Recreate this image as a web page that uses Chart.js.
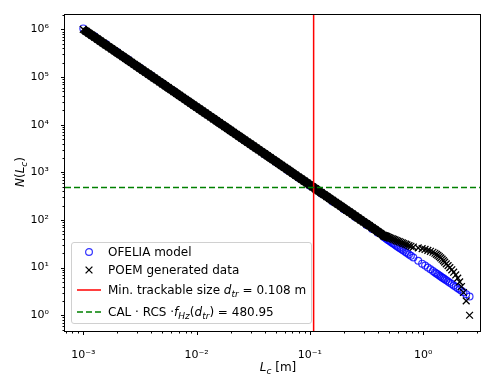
<!DOCTYPE html>
<html>
<head>
<meta charset="utf-8">
<script src="https://cdn.jsdelivr.net/npm/chart.js@4.4.1/dist/chart.umd.min.js"></script>
<style>
  body { margin: 0; background: #fff; }
  #wrap { position: relative; width: 486px; height: 374px; font-family: 'DejaVu Sans', sans-serif; color: #000; }
  #chart { position: absolute; left: 0; top: 0; }
  .title { position: absolute; font-size: 12px; white-space: nowrap; line-height: 14px; }
  #ytitle { left: 20px; top: 172px; transform: translate(-50%, -50%) rotate(-90deg); }
  #xtitle { left: 278px; top: 367px; transform: translate(-50%, -50%); }
  sub { font-size: 75%; vertical-align: -0.3em; line-height: 0; }
  #legend {
    position: absolute; left: 71px; top: 242px; width: 241px; height: 82px;
    box-sizing: border-box; border: 1px solid #d0d0d0; border-radius: 3px;
    background: rgba(255, 255, 255, 0.8); font-size: 12px;
  }
  .row { position: absolute; left: 0; height: 16px; line-height: 16px; white-space: nowrap; }
  .row svg { position: absolute; left: 4px; top: 2px; }
  .row span { position: absolute; left: 36px; top: 0; }
</style>
</head>
<body>
<div id="wrap">
  <canvas id="chart" width="486" height="374"></canvas>
  <div class="title" id="ytitle"><i>N</i>(<i>L</i><sub><i>c</i></sub>)</div>
  <div class="title" id="xtitle"><i>L</i><sub><i>c</i></sub> [m]</div>
  <div id="legend">
    <div class="row" style="top:1px">
      <svg width="28" height="12"><circle cx="13" cy="6" r="3.4" fill="none" stroke="rgba(0,0,255,0.8)" stroke-width="1.2"/></svg>
      <span>OFELIA model</span>
    </div>
    <div class="row" style="top:19px">
      <svg width="28" height="12"><path d="M9.6 2.6 L16.4 9.4 M9.6 9.4 L16.4 2.6" stroke="#000" stroke-width="1.3"/></svg>
      <span>POEM generated data</span>
    </div>
    <div class="row" style="top:39px">
      <svg width="28" height="12"><line x1="1" y1="6" x2="25" y2="6" stroke="red" stroke-width="1.5"/></svg>
      <span>Min. trackable size <i>d</i><sub><i>tr</i></sub> = 0.108 m</span>
    </div>
    <div class="row" style="top:61px">
      <svg width="28" height="12"><line x1="1" y1="6" x2="25" y2="6" stroke="green" stroke-width="1.5" stroke-dasharray="6 3"/></svg>
      <span>CAL · RCS ·<i>f</i><sub><i>Hz</i></sub>(<i>d</i><sub><i>tr</i></sub>) = 480.95</span>
    </div>
  </div>
</div>
<script>
// POEM generated population, dense part: sizes [m] and cumulative counts N(Lc)
const poemBandSizes = [
  0.001, 0.001059, 0.001122, 0.001189, 0.001259, 0.001334, 0.001413, 0.001496, 0.001585, 0.001679,
  0.001778, 0.001884, 0.001995, 0.002113, 0.002239, 0.002371, 0.002512, 0.002661, 0.002818, 0.002985,
  0.003162, 0.00335, 0.003548, 0.003758, 0.003981, 0.004217, 0.004467, 0.004732, 0.005012, 0.005309,
  0.005623, 0.005957, 0.00631, 0.006683, 0.007079, 0.007499, 0.007943, 0.008414, 0.008913, 0.009441,
  0.01, 0.01059, 0.01122, 0.01189, 0.01259, 0.01334, 0.01413, 0.01496, 0.01585, 0.01679,
  0.01778, 0.01884, 0.01995, 0.02113, 0.02239, 0.02371, 0.02512, 0.02661, 0.02818, 0.02985,
  0.03162, 0.0335, 0.03548, 0.03758, 0.03981, 0.04217, 0.04467, 0.04732, 0.05012, 0.05309,
  0.05623, 0.05957, 0.0631, 0.06683, 0.07079, 0.07499, 0.07943, 0.08414, 0.08913, 0.09441,
  0.1, 0.1059, 0.1122, 0.1189, 0.1259, 0.1334, 0.1413, 0.1496, 0.1585, 0.1679,
  0.1778, 0.1884, 0.1995, 0.2113, 0.2239, 0.2371, 0.2512, 0.2661, 0.2818, 0.2985,
  0.3162, 0.335, 0.3548, 0.3758, 0.3981, 0.4217, 0.4467, 0.461, 0.472, 0.483, 0.495
];
const poemBandCounts = [
  1000000, 910300, 828600, 754300, 686600, 625000, 568900, 517900, 471400, 429100,
  390800, 355700, 323800, 294800, 268300, 244300, 222300, 202400, 184200, 167700,
  152700, 139000, 126600, 115200, 104900, 95460, 86890, 79100, 72000, 65540,
  59690, 54340, 49460, 45020, 40980, 37310, 33960, 30910, 28140, 25610,
  23330, 21230, 19330, 17590, 16020, 14580, 13270, 12080, 11000, 10010,
  9116, 8298, 7554, 6876, 6259, 5698, 5186, 4721, 4297, 3912,
  3563, 3243, 2952, 2687, 2446, 2227, 2027, 1845, 1679, 1529,
  1392, 1267, 1154, 1050, 956, 870, 792, 721, 656, 597,
  544, 495, 451, 410, 374, 340, 310, 282, 257, 233,
  213, 194, 176, 160, 146, 133, 121, 110, 100, 91,
  83, 76, 69, 63, 57, 52, 47, 46, 45, 44, 43
];

// POEM generated population, sparse tail (largest objects)
const poemTailSizes = [
  0.507, 0.52, 0.535, 0.55, 0.565, 0.58,
  0.597, 0.615, 0.635, 0.655, 0.675, 0.7, 0.72, 0.75, 0.78, 0.82,
  0.905, 0.98, 1.04, 1.1, 1.16, 1.22, 1.27, 1.31, 1.35, 1.39,
  1.43, 1.47, 1.51, 1.55, 1.6, 1.66, 1.72, 1.79, 1.86, 1.94,
  2.02, 2.1, 2.18, 2.27, 2.4, 2.57
];
const poemTailCounts = [
  42, 41, 40, 39, 38, 37,
  36, 35, 34, 33, 32, 31, 30, 29, 28, 27,
  26, 25, 24, 23, 22, 21, 20, 19, 18, 17,
  16, 15, 14, 13, 12, 11, 10, 9, 8, 7,
  6, 5, 4, 3, 2, 1
];

// OFELIA model evaluated at sizes [m]
const ofeliaSizes = [
  0.001, 0.001259, 0.001585, 0.001995, 0.002512, 0.003162, 0.003981, 0.005012, 0.00631, 0.007943,
  0.01, 0.01259, 0.01585, 0.01995, 0.02512, 0.03162, 0.03981, 0.05012, 0.0631, 0.07943,
  0.1, 0.1259, 0.1585, 0.1995, 0.2512, 0.3162, 0.3548, 0.3981, 0.4467,
  0.461, 0.472, 0.483, 0.495, 0.507, 0.52, 0.535, 0.55, 0.565, 0.58,
  0.597, 0.615, 0.635, 0.655, 0.675, 0.7, 0.72, 0.75, 0.78, 0.82,
  0.905, 0.98, 1.04, 1.1, 1.16, 1.22, 1.27, 1.31, 1.35, 1.39,
  1.43, 1.47, 1.51, 1.55, 1.6, 1.66, 1.72, 1.79, 1.86, 1.94,
  2.02, 2.1, 2.18, 2.27, 2.4, 2.57
];
const ofeliaCounts = [
  1047000, 716000, 490000, 335000, 229000, 157000, 107000, 73300, 50100, 34300,
  23400, 16000, 11000, 7500, 5130, 3510, 2400, 1640, 1120, 767,
  525, 359, 245, 168, 115, 78.5, 64.9, 53.7, 44.4,
  42.2, 40.6, 39.0, 37.5, 36.0, 34.6, 33.0, 31.5, 30.1, 28.9,
  27.5, 26.2, 24.9, 23.6, 22.5, 21.2, 20.2, 18.9, 17.7, 16.3,
  13.9, 12.1, 11.0, 10.0, 9.2, 8.5, 7.9, 7.5, 7.2, 6.8,
  6.5, 6.2, 5.95, 5.7, 5.4, 5.1, 4.8, 4.5, 4.2, 3.94,
  3.68, 3.45, 3.25, 3.04, 2.77, 2.48
];

const minTrackableSize = 0.108;
const calThreshold = 480.95;

const xMajorTicks = [0.001, 0.01, 0.1, 1];
const xTickLabels = ['10⁻³', '10⁻²', '10⁻¹', '10⁰'];
const yMajorTicks = [1, 10, 100, 1000, 10000, 100000, 1000000];
const yTickLabels = ['10⁰', '10¹', '10²', '10³', '10⁴', '10⁵', '10⁶'];

const xLimits = [6.9e-4, 3.17];
const yLimits = [0.467, 2.04e6];

const toPoints = (xs, ys) => xs.map((x, i) => ({ x: x, y: ys[i] }));

// frame, matplotlib-style ticks and the two reference lines
const axesDecor = {
  id: 'axesDecor',
  afterDatasetsDraw(chart) {
    const { ctx, chartArea: a, scales } = chart;
    ctx.save();
    ctx.lineWidth = 1.5;
    ctx.strokeStyle = 'red';
    const xr = scales.x.getPixelForValue(minTrackableSize);
    ctx.beginPath();
    ctx.moveTo(xr, a.top);
    ctx.lineTo(xr, a.bottom);
    ctx.stroke();
    ctx.strokeStyle = 'green';
    ctx.setLineDash([6, 3]);
    const yg = scales.y.getPixelForValue(calThreshold);
    ctx.beginPath();
    ctx.moveTo(a.left, yg);
    ctx.lineTo(a.right, yg);
    ctx.stroke();
    ctx.restore();
  },
  afterDraw(chart) {
    const { ctx, chartArea: a, scales } = chart;
    ctx.save();
    ctx.strokeStyle = '#000';
    ctx.lineWidth = 1;
    ctx.strokeRect(Math.round(a.left) - 0.5, Math.round(a.top) - 0.5,
      Math.round(a.right - a.left) + 1, Math.round(a.bottom - a.top) + 1);
    ctx.beginPath();
    for (let d = -4; d <= 1; d++) {
      for (let m = 1; m <= 9; m++) {
        const v = m * Math.pow(10, d);
        if (v < xLimits[0] || v > xLimits[1]) continue;
        const px = Math.round(scales.x.getPixelForValue(v)) + 0.5;
        ctx.moveTo(px, a.bottom);
        ctx.lineTo(px, a.bottom + (m === 1 ? 4 : 2.5));
      }
    }
    for (let d = -1; d <= 6; d++) {
      for (let m = 1; m <= 9; m++) {
        const v = m * Math.pow(10, d);
        if (v < yLimits[0] || v > yLimits[1]) continue;
        const py = Math.round(scales.y.getPixelForValue(v)) + 0.5;
        ctx.moveTo(a.left, py);
        ctx.lineTo(a.left - (m === 1 ? 4 : 2.5), py);
      }
    }
    ctx.stroke();
    ctx.restore();
  }
};

const tickFont = { family: 'DejaVu Sans', size: 11 };
const crossStyle = {
  pointStyle: 'crossRot',
  pointRadius: 4.8,
  pointBorderWidth: 1.3,
  pointBorderColor: '#000',
  pointBackgroundColor: '#000'
};

new Chart(document.getElementById('chart'), {
  type: 'scatter',
  data: {
    datasets: [
      Object.assign({
        label: 'POEM generated data',
        data: toPoints(poemBandSizes, poemBandCounts),
        order: 0,
        showLine: true,
        borderWidth: 9,
        borderColor: '#000',
        borderJoinStyle: 'round',
        fill: false
      }, crossStyle),
      Object.assign({
        label: 'POEM generated data (tail)',
        data: toPoints(poemTailSizes, poemTailCounts),
        order: 0
      }, crossStyle),
      {
        label: 'OFELIA model',
        data: toPoints(ofeliaSizes, ofeliaCounts),
        order: 1,
        pointStyle: 'circle',
        pointRadius: 3.4,
        pointBorderWidth: 1.2,
        pointBorderColor: 'rgba(0, 0, 255, 0.8)',
        pointBackgroundColor: 'rgba(0, 0, 0, 0)'
      }
    ]
  },
  options: {
    responsive: false,
    devicePixelRatio: 1,
    animation: false,
    events: [],
    layout: { padding: { top: 10, right: 1, left: 0, bottom: 0 } },
    plugins: { legend: { display: false }, tooltip: { enabled: false } },
    scales: {
      x: {
        type: 'logarithmic',
        min: xLimits[0],
        max: xLimits[1],
        grid: { display: false },
        border: { display: false },
        ticks: {
          font: tickFont, color: '#000', padding: 10, maxRotation: 0, autoSkip: false,
          callback: (v, i) => xTickLabels[i]
        },
        afterBuildTicks: (s) => { s.ticks = xMajorTicks.map(v => ({ value: v })); },
        afterFit: (s) => { s.height = 43; }
      },
      y: {
        type: 'logarithmic',
        min: yLimits[0],
        max: yLimits[1],
        grid: { display: false },
        border: { display: false },
        ticks: {
          font: tickFont, color: '#000', padding: 8, autoSkip: false,
          callback: (v, i) => yTickLabels[i]
        },
        afterBuildTicks: (s) => { s.ticks = yMajorTicks.map(v => ({ value: v })); },
        afterFit: (s) => { s.width = 65; }
      }
    }
  },
  plugins: [axesDecor]
});
</script>
</body>
</html>
